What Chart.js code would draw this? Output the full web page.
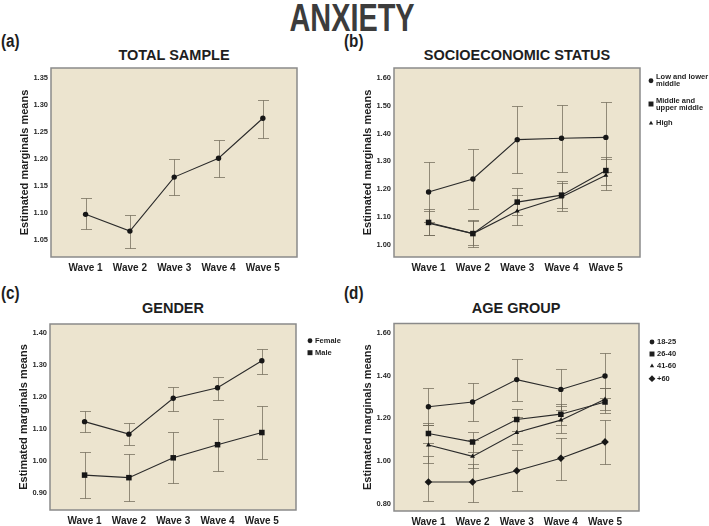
<!DOCTYPE html>
<html><head><meta charset="utf-8">
<script src="https://cdn.jsdelivr.net/npm/chart.js@4/dist/chart.umd.min.js"></script>
<style>
html,body{margin:0;padding:0;background:#fff;}
#wrap{position:relative;width:709px;height:526px;overflow:hidden;font-family:'Liberation Sans',Arial,sans-serif;}
canvas{position:absolute;left:0;top:0;}
.t{position:absolute;font-weight:bold;color:#1e1e1e;white-space:nowrap;line-height:1;}
</style></head>
<body><div id="wrap">
<div class="t" style="left:352px;top:-2px;font-size:39px;color:#3c3c3c;transform:translateX(-50%) scaleX(0.74);">ANXIETY</div>
<div class="t" style="left:1px;top:32px;font-size:18px;transform-origin:left;transform:scaleX(0.85);">(a)</div>
<div class="t" style="left:344px;top:32px;font-size:18px;transform-origin:left;transform:scaleX(0.85);">(b)</div>
<div class="t" style="left:1px;top:284px;font-size:18px;transform-origin:left;transform:scaleX(0.85);">(c)</div>
<div class="t" style="left:344px;top:284px;font-size:18px;transform-origin:left;transform:scaleX(0.85);">(d)</div>
<div class="t" style="left:174px;top:48px;font-size:14.5px;transform:translateX(-50%);">TOTAL SAMPLE</div>
<div class="t" style="left:517px;top:48px;font-size:14.5px;transform:translateX(-50%);">SOCIOECONOMIC STATUS</div>
<div class="t" style="left:173px;top:301px;font-size:14.5px;transform:translateX(-50%);">GENDER</div>
<div class="t" style="left:516px;top:301px;font-size:14.5px;transform:translateX(-50%);">AGE GROUP</div>
<canvas id="ca" width="709" height="526"></canvas>
<canvas id="cb" width="709" height="526"></canvas>
<canvas id="cc" width="709" height="526"></canvas>
<canvas id="cd" width="709" height="526"></canvas>
</div>
<script>
// ---------- DATA ----------
const waves = ['Wave 1', 'Wave 2', 'Wave 3', 'Wave 4', 'Wave 5'];
const yTitle = 'Estimated marginals means';

// (a) Total sample
const totalMean = [1.097, 1.066, 1.166, 1.201, 1.275];
const totalLow  = [1.069, 1.035, 1.132, 1.166, 1.239];
const totalHigh = [1.128, 1.096, 1.200, 1.234, 1.309];
const ticksA = [1.05, 1.10, 1.15, 1.20, 1.25, 1.30, 1.35];

// (b) Socioeconomic status
const sesLabels = ['Low and lower\nmiddle', 'Middle and\nupper middle', 'High'];
const sesLowMean  = [1.190, 1.237, 1.378, 1.383, 1.386];
const sesLowLow   = [1.084, 1.130, 1.258, 1.263, 1.262];
const sesLowHigh  = [1.298, 1.346, 1.497, 1.502, 1.512];
const sesMidMean  = [1.081, 1.041, 1.154, 1.179, 1.267];
const sesMidLow   = [1.035, 1.001, 1.107, 1.134, 1.216];
const sesMidHigh  = [1.129, 1.086, 1.203, 1.228, 1.314];
const sesHighMean = [1.078, 1.041, 1.122, 1.172, 1.250];
const sesHighLow  = [1.037, 0.993, 1.071, 1.122, 1.196];
const sesHighHigh = [1.122, 1.090, 1.178, 1.222, 1.308];
const ticksB = [1.00, 1.10, 1.20, 1.30, 1.40, 1.50, 1.60];

// (c) Gender
const genderLabels = ['Female', 'Male'];
const femMean  = [1.124, 1.085, 1.197, 1.230, 1.314];
const femLow   = [1.091, 1.051, 1.158, 1.192, 1.272];
const femHigh  = [1.158, 1.121, 1.233, 1.265, 1.350];
const maleMean = [0.957, 0.949, 1.011, 1.052, 1.090];
const maleLow  = [0.884, 0.876, 0.933, 0.971, 1.006];
const maleHigh = [1.028, 1.022, 1.091, 1.131, 1.173];
const ticksC = [0.90, 1.00, 1.10, 1.20, 1.30, 1.40];

// (d) Age group
const ageLabels = ['18-25', '26-40', '41-60', '+60'];
const age1Mean = [1.254, 1.276, 1.381, 1.335, 1.398];
const age1Low  = [1.167, 1.186, 1.282, 1.239, 1.295];
const age1High = [1.342, 1.367, 1.477, 1.433, 1.505];
const age2Mean = [1.128, 1.089, 1.194, 1.219, 1.276];
const age2Low  = [1.082, 1.043, 1.142, 1.170, 1.223];
const age2High = [1.177, 1.136, 1.245, 1.268, 1.342];
const age3Mean = [1.074, 1.021, 1.133, 1.191, 1.289];
const age3Low  = [0.991, 0.968, 1.077, 1.131, 1.237];
const age3High = [1.170, 1.097, 1.205, 1.256, 1.340];
const age4Mean = [0.901, 0.901, 0.954, 1.012, 1.089];
const age4Low  = [0.812, 0.809, 0.858, 0.910, 0.985];
const age4High = [1.021, 0.987, 1.049, 1.108, 1.192];
const ticksD = [0.80, 1.00, 1.20, 1.40, 1.60];

// ---------- STYLE / PLUGINS ----------
const FONT = "'Liberation Sans', Arial, sans-serif";
const BG = '#ece4cf';
const ERR = 'rgba(110,102,86,0.72)';
const LINE = '#2a2a2a';

const panelPlugin = {
  id: 'panel',
  beforeDraw(chart) {
    const a = chart.chartArea, c = chart.ctx;
    c.save(); c.fillStyle = BG;
    c.fillRect(a.left, a.top, a.right - a.left, a.bottom - a.top);
    c.restore();
  },
  beforeDatasetsDraw(chart) {
    const c = chart.ctx, xs = chart.scales.x, ys = chart.scales.y;
    c.save(); c.strokeStyle = ERR; c.lineWidth = 1;
    chart.data.datasets.forEach(ds => {
      ds.errLow.forEach((lo, i) => {
        const px = Math.round(xs.getPixelForValue(i)) + 0.5;
        const y1 = Math.round(ys.getPixelForValue(lo)) + 0.5;
        const y2 = Math.round(ys.getPixelForValue(ds.errHigh[i])) + 0.5;
        const cap = 5.5;
        c.beginPath();
        c.moveTo(px, y1); c.lineTo(px, y2);
        c.moveTo(px - cap, y1); c.lineTo(px + cap, y1);
        c.moveTo(px - cap, y2); c.lineTo(px + cap, y2);
        c.stroke();
      });
    });
    c.restore();
  },
  afterDraw(chart) {
    const a = chart.chartArea, c = chart.ctx;
    c.save(); c.strokeStyle = '#8a8a8a'; c.lineWidth = 1.5;
    c.strokeRect(a.left, a.top, a.right - a.left, a.bottom - a.top);
    c.restore();
    const lg = chart.options.plugins.sideLegend;
    if (!lg || !lg.ys) return;
    c.save();
    c.font = 'bold 7.5px ' + FONT; c.fillStyle = '#1e1e1e'; c.textBaseline = 'middle';
    chart.data.datasets.forEach((ds, k) => {
      const y = lg.ys[k];
      Chart.helpers.drawPoint(c, {pointStyle: ds.pointStyle, rotation: 0, radius: ds.pointRadius * 0.9, borderWidth: 0}, lg.x, y);
      const lines = ds.label.split('\n');
      const lh = 7;
      lines.forEach((t, j) => c.fillText(t, lg.tx, y - (lines.length - 1) * lh / 2 + j * lh));
    });
    c.restore();
  }
};

function series(label, mean, lo, hi, style, r) {
  return {
    label, data: mean.map((v, i) => ({x: i, y: v})), errLow: lo, errHigh: hi,
    borderColor: LINE, borderWidth: 1.1, backgroundColor: '#161616',
    pointBackgroundColor: '#161616', pointBorderWidth: 0,
    pointStyle: style, pointRadius: r, tension: 0
  };
}

function makeChart(id, datasets, box, yr, ticks, legend) {
  const yW = 33, xH = 22;
  return new Chart(document.getElementById(id), {
    type: 'line',
    data: {datasets},
    plugins: [panelPlugin],
    options: {
      responsive: false, animation: false, devicePixelRatio: 1, events: [],
      layout: {padding: {left: box.l - yW, right: 709 - box.r, top: box.t, bottom: 526 - box.b - xH}},
      plugins: {legend: {display: false}, tooltip: {enabled: false}, sideLegend: legend},
      scales: {
        x: {
          type: 'linear', min: -0.78, max: 4.77,
          grid: {display: false, drawTicks: false}, border: {display: false},
          afterBuildTicks: s => { s.ticks = waves.map((w, i) => ({value: i})); },
          afterFit: s => { s.height = xH; },
          ticks: {autoSkip: false, maxRotation: 0, padding: 5, color: '#1e1e1e',
            font: {family: FONT, size: 10, weight: 'bold'},
            callback: v => waves[v] || ''}
        },
        y: {
          type: 'linear', min: yr[0], max: yr[1],
          grid: {display: false, drawTicks: false}, border: {display: false},
          afterBuildTicks: s => { s.ticks = ticks.map(v => ({value: v})); },
          afterFit: s => { s.width = yW; },
          ticks: {padding: 3, color: '#2a2a2a', font: {family: FONT, size: 7.5, weight: 'bold'},
            callback: v => Number(v).toFixed(2)},
          title: {display: true, text: yTitle, color: '#1e1e1e', padding: {top: 0, bottom: 0},
            font: {family: FONT, size: 11, weight: 'bold'}}
        }
      }
    }
  });
}

makeChart('ca', [series('Total', totalMean, totalLow, totalHigh, 'circle', 2.7)],
  {l: 51, r: 297, t: 68, b: 257}, [1.018, 1.368], ticksA, null);

makeChart('cb', [
  series(sesLabels[0], sesLowMean, sesLowLow, sesLowHigh, 'circle', 2.7),
  series(sesLabels[1], sesMidMean, sesMidLow, sesMidHigh, 'rect', 3.9),
  series(sesLabels[2], sesHighMean, sesHighLow, sesHighHigh, 'triangle', 2.8)
], {l: 394, r: 640, t: 68, b: 257}, [0.957, 1.635], ticksB, {x: 651, tx: 656, ys: [80.7, 104, 123.3]});

makeChart('cc', [
  series(genderLabels[0], femMean, femLow, femHigh, 'circle', 2.7),
  series(genderLabels[1], maleMean, maleLow, maleHigh, 'rect', 3.9)
], {l: 50, r: 296, t: 324, b: 510}, [0.848, 1.429], ticksC, {x: 310, tx: 315, ys: [340.7, 352.7]});

makeChart('cd', [
  series(ageLabels[0], age1Mean, age1Low, age1High, 'circle', 2.7),
  series(ageLabels[1], age2Mean, age2Low, age2High, 'rect', 3.9),
  series(ageLabels[2], age3Mean, age3Low, age3High, 'triangle', 2.8),
  series(ageLabels[3], age4Mean, age4Low, age4High, 'rectRot', 3.8)
], {l: 394, r: 639, t: 323.5, b: 511}, [0.765, 1.644], ticksD, {x: 652, tx: 657, ys: [342, 354, 366, 378.7]});
</script>
</body></html>
